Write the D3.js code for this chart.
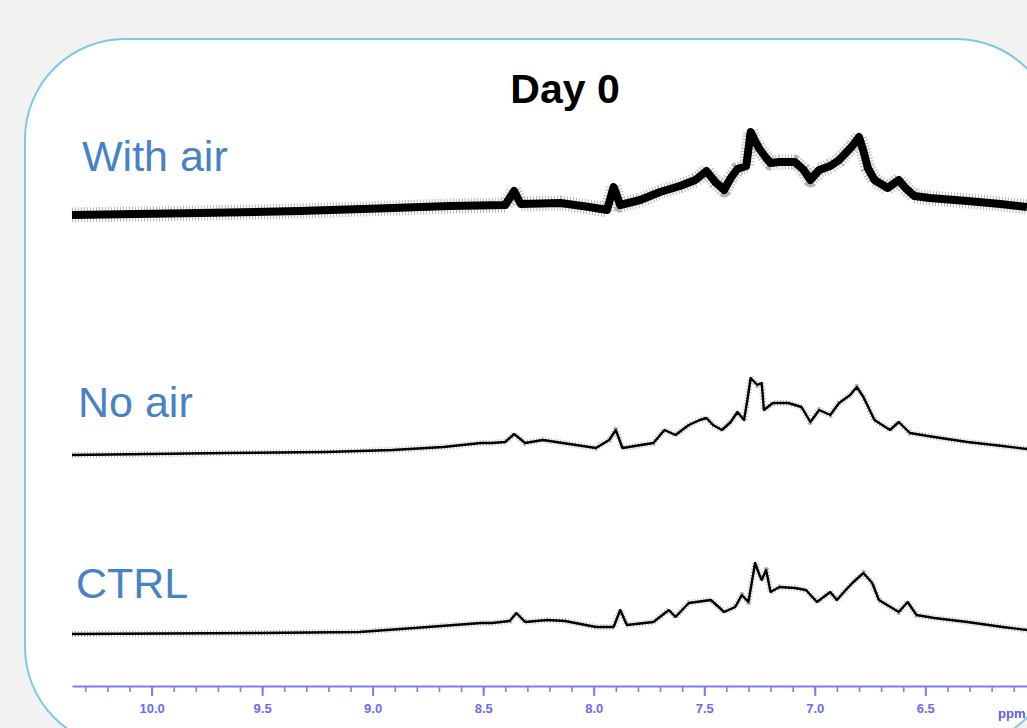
<!DOCTYPE html>
<html>
<head>
<meta charset="utf-8">
<script src="https://cdnjs.cloudflare.com/ajax/libs/d3/7.8.5/d3.min.js"></script>
<style>
  html, body { margin: 0; padding: 0; background: #f2f2f2; }
  svg { display: block; }
</style>
</head>
<body>
<div id="chart"></div>
<script>
// chemical shift axis (ppm)
var majorTicks = [10.0, 9.5, 9.0, 8.5, 8.0, 7.5, 7.0, 6.5];
var tickLabels = ['10.0', '9.5', '9.0', '8.5', '8.0', '7.5', '7.0', '6.5'];

// spectrum traces: shift (ppm) and relative intensity above each baseline
var withAirPpm = [10.36, 9.78, 9.33, 8.91, 8.65, 8.40, 8.36, 8.33, 8.15, 8.02, 7.94, 7.91, 7.88, 7.79, 7.70, 7.61, 7.54, 7.49, 7.45, 7.41, 7.38, 7.35, 7.31, 7.29, 7.27, 7.25, 7.22, 7.20, 7.16, 7.09, 7.05, 7.02, 6.98, 6.93, 6.89, 6.86, 6.83, 6.80, 6.78, 6.76, 6.73, 6.67, 6.62, 6.59, 6.55, 6.48, 6.31, 6.16, 6.04];
var withAirInt = [0, 2, 4, 7, 9, 10, 24, 11, 12, 8, 5, 28, 10, 15, 23, 29, 35, 44, 33, 25, 37, 46, 49, 83, 74, 66, 57, 52, 53, 53, 45, 35, 45, 49, 55, 62, 69, 78, 64, 47, 35, 27, 35, 27, 19, 17, 14, 11, 8];

var noAirPpm = [10.36, 9.66, 9.21, 8.91, 8.68, 8.51, 8.46, 8.40, 8.36, 8.31, 8.23, 8.11, 7.99, 7.93, 7.90, 7.87, 7.73, 7.68, 7.63, 7.57, 7.52, 7.49, 7.46, 7.42, 7.38, 7.35, 7.32, 7.305, 7.29, 7.26, 7.24, 7.23, 7.19, 7.12, 7.06, 7.02, 6.98, 6.93, 6.89, 6.84, 6.81, 6.78, 6.73, 6.66, 6.62, 6.57, 6.46, 6.31, 6.15, 6.04];
var noAirInt = [0, 2, 3, 5, 8, 12, 12, 13, 21, 12, 15, 11, 7, 15, 25, 7, 12, 25, 20, 30, 35, 37, 30, 25, 33, 43, 35, 55, 77, 70, 72, 45, 52, 52, 48, 33, 45, 40, 52, 60, 68, 58, 35, 25, 33, 22, 18, 13, 9, 6];

var ctrlPpm = [10.36, 9.51, 9.06, 8.75, 8.51, 8.46, 8.38, 8.35, 8.31, 8.21, 8.13, 7.99, 7.91, 7.88, 7.85, 7.73, 7.66, 7.63, 7.57, 7.47, 7.41, 7.36, 7.33, 7.30, 7.27, 7.25, 7.24, 7.22, 7.20, 7.16, 7.09, 7.04, 6.99, 6.93, 6.90, 6.86, 6.83, 6.78, 6.74, 6.71, 6.62, 6.58, 6.54, 6.46, 6.31, 6.15, 6.04];
var ctrlInt = [0, 1, 2, 7, 11, 11, 13, 21, 12, 14, 13, 7, 7, 24, 9, 12, 24, 17, 31, 34, 22, 27, 39, 32, 71, 59, 54, 64, 42, 47, 46, 44, 32, 42, 34, 44, 51, 61, 51, 34, 22, 32, 19, 16, 12, 7, 4];

var traceNames = ['With air', 'No air', 'CTRL'];

var width = 1027, height = 728;

var svg = d3.select('#chart').append('svg')
    .attr('width', width)
    .attr('height', height);

// panel with rounded corners running off the page
svg.append('rect')
    .attr('x', 25)
    .attr('y', 39)
    .attr('width', 1031)
    .attr('height', 708)
    .attr('rx', 100)
    .attr('ry', 100)
    .attr('fill', '#ffffff')
    .attr('stroke', '#80c8e2')
    .attr('stroke-width', 2);

svg.append('text')
    .attr('x', 565)
    .attr('y', 103)
    .attr('text-anchor', 'middle')
    .style('font-family', '"Liberation Sans", Arial, sans-serif')
    .style('font-weight', 'bold')
    .style('font-size', '41px')
    .attr('fill', '#000')
    .text('Day 0');

var x = d3.scaleLinear().domain([10.36, 6.04]).range([72, 1027]);

var traces = [
  {name: traceNames[0], ppm: withAirPpm, val: withAirInt, base: 215, labelX: 82, labelY: 171, w: 8, fuzz: 15},
  {name: traceNames[1], ppm: noAirPpm, val: noAirInt, base: 455, labelX: 78, labelY: 417, w: 2.4, fuzz: 6},
  {name: traceNames[2], ppm: ctrlPpm, val: ctrlInt, base: 634, labelX: 76, labelY: 598, w: 2.4, fuzz: 6}
];

traces.forEach(function(t) {
  var y = d3.scaleLinear().domain([0, 100]).range([t.base, t.base - 100]);
  var pts = t.ppm.map(function(p, i) { return [p, t.val[i]]; });
  var line = d3.line()
      .x(function(d) { return x(d[0]); })
      .y(function(d) { return y(d[1]); });

  // hatched grey fringe, stands in for the noise around the trace
  svg.append('path')
      .datum(pts)
      .attr('d', line)
      .attr('fill', 'none')
      .attr('stroke', '#777')
      .attr('stroke-opacity', 0.55)
      .attr('stroke-width', t.fuzz)
      .attr('stroke-dasharray', '1 2')
      .attr('stroke-linejoin', 'round');

  svg.append('path')
      .datum(pts)
      .attr('d', line)
      .attr('fill', 'none')
      .attr('stroke', '#000')
      .attr('stroke-width', t.w)
      .attr('stroke-linejoin', 'round');

  svg.append('text')
      .attr('x', t.labelX)
      .attr('y', t.labelY)
      .style('font-family', '"Liberation Sans", Arial, sans-serif')
      .style('font-size', '43px')
      .attr('fill', '#4682c4')
      .text(t.name);
});

// ppm axis
var axisColor = '#7b7bf5';
var axisY = 686;

var minorAxis = d3.axisBottom(x)
    .tickValues(d3.range(61, 104).map(function(d) { return d / 10; }))
    .tickSize(6)
    .tickSizeOuter(0)
    .tickFormat('');

var majorAxis = d3.axisBottom(x)
    .tickValues(majorTicks)
    .tickSize(10)
    .tickSizeOuter(0)
    .tickPadding(8)
    .tickFormat(function(d, i) { return tickLabels[i]; });

var gMinor = svg.append('g')
    .attr('transform', 'translate(0,' + axisY + ')')
    .call(minorAxis);
gMinor.select('.domain').remove();
gMinor.selectAll('.tick line').attr('stroke', axisColor).attr('stroke-width', 1.6);

var gMajor = svg.append('g')
    .attr('transform', 'translate(0,' + axisY + ')')
    .call(majorAxis);
gMajor.select('.domain').attr('stroke', axisColor).attr('stroke-width', 2);
gMajor.selectAll('.tick line').attr('stroke', axisColor).attr('stroke-width', 2);
gMajor.selectAll('.tick text')
    .attr('fill', '#6a6af2')
    .style('font-family', '"Liberation Sans", Arial, sans-serif')
    .style('font-weight', 'bold')
    .style('font-size', '13px');

svg.append('text')
    .attr('x', 998)
    .attr('y', 718)
    .style('font-family', '"Liberation Sans", Arial, sans-serif')
    .style('font-weight', 'bold')
    .style('font-size', '13px')
    .attr('fill', '#5c5cf2')
    .text('ppm');
</script>
</body>
</html>
